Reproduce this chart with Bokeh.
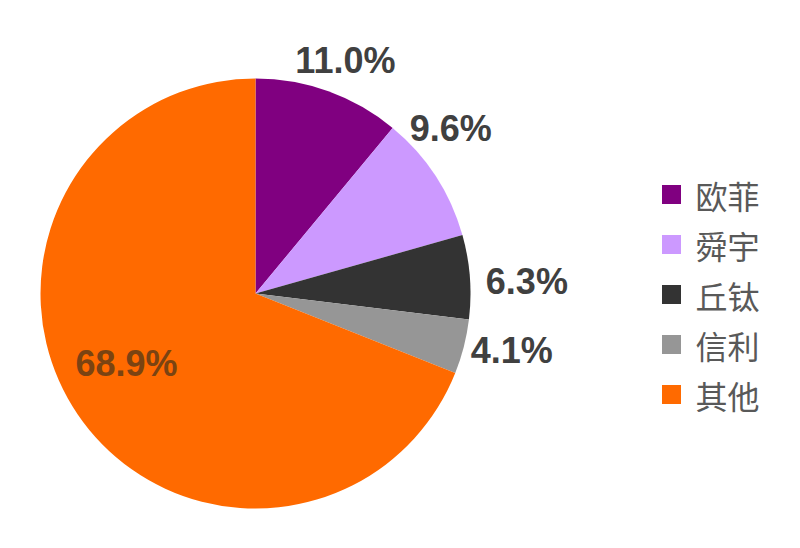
import numpy as np
from bokeh.plotting import figure
from bokeh.models import Range1d, ColumnDataSource
from bokeh.core.properties import value
from bokeh.embed import file_html
from bokeh.resources import INLINE

# ---- data ----
categories = ["欧菲", "舜宇", "丘钛", "信利", "其他"]
shares = [11.0, 9.6, 6.3, 4.1, 68.9]
labels = ["11.0%", "9.6%", "6.3%", "4.1%", "68.9%"]
colors = ["#800080", "#CC99FF", "#333333", "#969696", "#FF6A00"]

# ---- layout (pixel-like data units) ----
W, H = 784, 532
cx, cy, R = 255, 239, 215
label_dx = [17, 15, 57, 48, 49]
label_dy = [31, 48, -5, -4, 51]
label_colors = ["#404040", "#404040", "#404040", "#404040", "#7a4312"]

vals = np.array(shares)
frac = vals / vals.sum()
cum = np.concatenate([[0], np.cumsum(frac)])
start = np.pi / 2 - 2 * np.pi * cum[:-1]
end = np.pi / 2 - 2 * np.pi * cum[1:]
mid = (start + end) / 2

src = ColumnDataSource(dict(start=start, end=end, color=colors, cat=categories))

p = figure(width=W, height=H, output_backend="svg", toolbar_location=None,
           x_range=Range1d(0, W), y_range=Range1d(0, H), min_border=0)
p.axis.visible = False
p.grid.visible = False
p.outline_line_color = None

p.wedge(x=cx, y=cy, radius=R, start_angle="start", end_angle="end",
        direction="clock", fill_color="color", line_color=None, source=src)

lx = cx + R * np.cos(mid) + np.array(label_dx)
ly = cy + R * np.sin(mid) + np.array(label_dy)
p.text(x=lx, y=ly, text=labels, text_color=label_colors,
       text_font=value("Liberation Sans"), text_font_style="bold",
       text_font_size="36px", text_align="center", text_baseline="middle")

# legend (manual)
leg_x, leg_y0, leg_step = 671, 338, 50
ly_leg = leg_y0 - leg_step * np.arange(len(categories))
p.scatter(x=[leg_x] * len(categories), y=ly_leg, marker="square", size=19,
          fill_color=colors, line_color=None)
p.text(x=[leg_x + 24] * len(categories), y=ly_leg, text=categories,
       text_color="#595959", text_font=value("Noto Sans CJK SC"),
       text_font_size="32px", text_align="left", text_baseline="middle")

open("out.html", "w").write(file_html(p, INLINE))
